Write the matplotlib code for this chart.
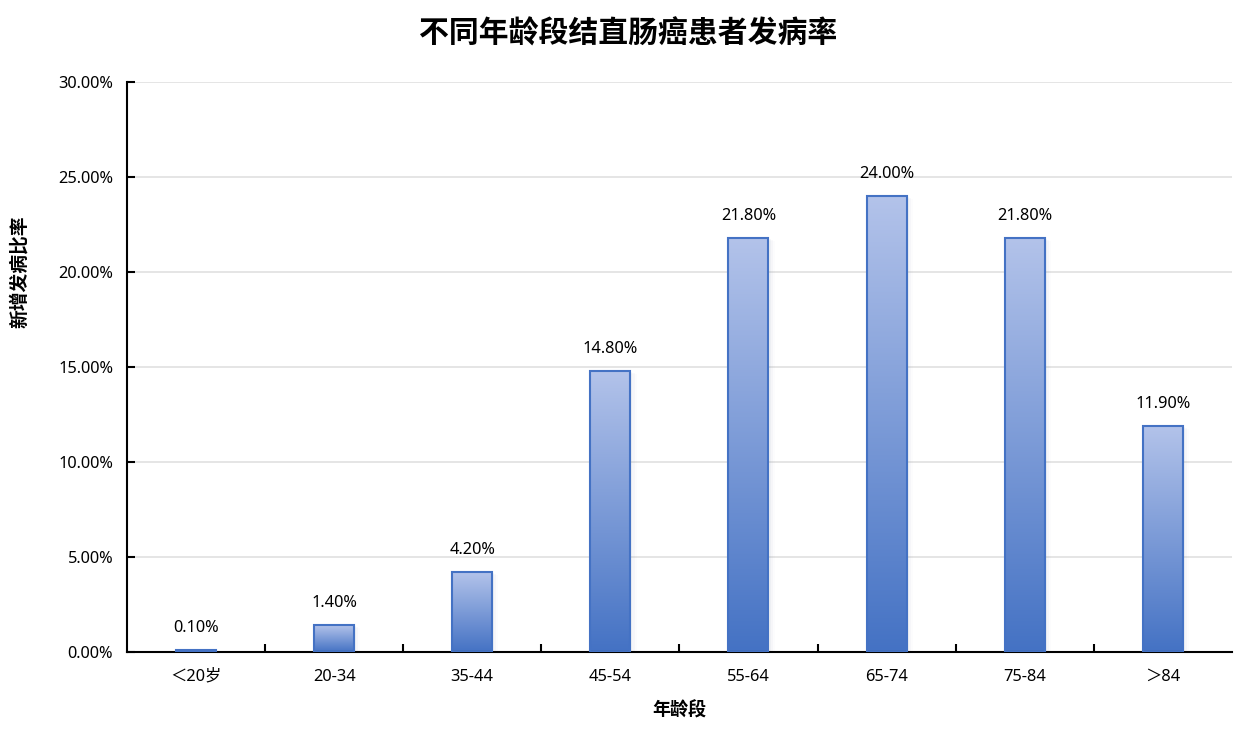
import numpy as np
import matplotlib.pyplot as plt
from matplotlib.colors import LinearSegmentedColormap
from matplotlib.ticker import FuncFormatter, FixedLocator, NullFormatter

plt.rcParams['font.family'] = ['Noto Sans', 'Noto Sans CJK SC', 'DejaVu Sans']

categories = ['＜20岁', '20-34', '35-44', '45-54', '55-64', '65-74', '75-84', '＞84']
rates = [0.10, 1.40, 4.20, 14.80, 21.80, 24.00, 21.80, 11.90]

fig = plt.figure(figsize=(12.57, 7.45), dpi=100)
ax = fig.add_axes([0.101, 0.1248, 0.879, 0.765])

x = np.arange(len(categories))
width = 0.29
cmap = LinearSegmentedColormap.from_list('bar', ['#4472c4', '#b3c3ea'])
grad = np.linspace(0, 1, 256).reshape(-1, 1)

bars = ax.bar(x, rates, width=width, facecolor='none', edgecolor='#4472c4',
              linewidth=1.5, zorder=3)
for b, v in zip(bars, rates):
    x0 = b.get_x()
    # soft shadow to the right
    for k, a in enumerate([0.06, 0.04, 0.02]):
        ax.add_patch(plt.Rectangle((x0 + 0.015 * (k + 1), 0), b.get_width(), v - 0.05 * (k + 1),
                                   facecolor='#6a7ea8', alpha=a, edgecolor='none', zorder=1))
    im = ax.imshow(grad, cmap=cmap, aspect='auto', origin='lower',
                   extent=[x0, x0 + b.get_width(), 0, v], zorder=2)
    im.set_clip_path(b)
    ax.text(b.get_x() + b.get_width() / 2, v + 0.75, '%.2f%%' % v,
            ha='center', va='bottom', fontsize=11.8, color='#000000', zorder=4)

ax.set_xlim(-0.5, len(categories) - 0.5)
ax.set_ylim(0, 30)
ax.set_yticks(np.arange(0, 31, 5))
ax.yaxis.set_major_formatter(FuncFormatter(lambda v, p: '%.2f%%' % v))
ax.set_xticks(x)
ax.set_xticklabels(categories, fontsize=11.8)
ax.xaxis.set_minor_locator(FixedLocator(np.arange(0.5, len(categories) - 0.5, 1)))
ax.xaxis.set_minor_formatter(NullFormatter())
ax.tick_params(axis='x', which='major', length=0, pad=12)
ax.tick_params(axis='x', which='minor', direction='in', length=6, width=1.5)
ax.tick_params(axis='y', direction='in', length=6, width=1.5, labelsize=11.8, pad=10)

ax.grid(axis='y', color='#e0e0e0', linewidth=1.2, zorder=0)
ax.set_axisbelow(True)
for s in ['top', 'right']:
    ax.spines[s].set_visible(False)
for s in ['left', 'bottom']:
    ax.spines[s].set_linewidth(1.5)
    ax.spines[s].set_color('#000000')

ax.set_xlabel('年龄段', fontsize=13, fontweight='bold', va='center')
ax.xaxis.set_label_coords(0.5, -0.102)
ax.set_ylabel('新增发病比率', fontsize=13.5, fontweight='bold', va='center')
ax.yaxis.set_label_coords(-0.097, 0.667)
fig.text(0.5, 1 - 35 / 745, '不同年龄段结直肠癌患者发病率', fontsize=21.5, fontweight='bold',
         ha='center', va='center')

fig.savefig('out.png', dpi=100)
